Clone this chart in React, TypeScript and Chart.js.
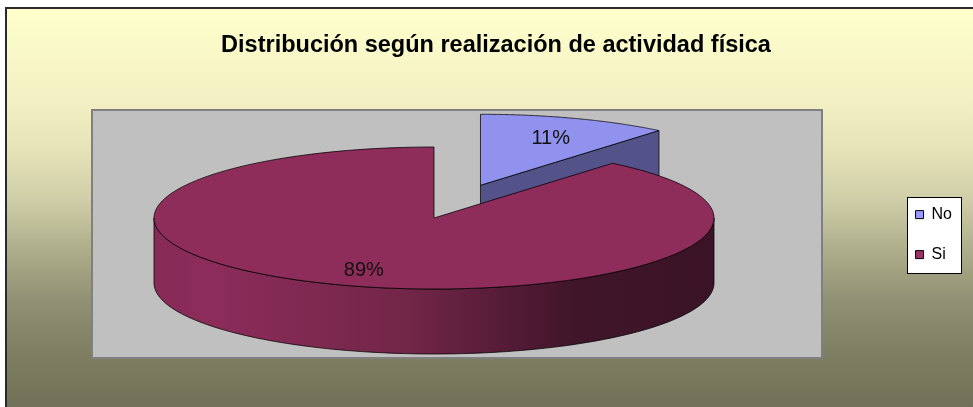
import React, { useEffect, useRef } from 'react';
import { Chart, registerables } from 'chart.js';

Chart.register(...registerables);

// ---- data ----
const TITLE = 'Distribución según realización de actividad física';
const categories = ['No', 'Si'];
const values = [11, 89];

// ---- style ----
const topColors = ['#9191EE', '#8E2C5A'];
const legendColors = ['#9999FF', '#993366'];
const wallColors = ['#535389', '#5A1C3A'];
const sideStops: [number, string][][] = [
  [[0, '#7A7AD0'], [0.5, '#5E5EA0'], [1, '#3A3A66']],
  [[0, '#862A56'], [0.1, '#8C2C5A'], [0.45, '#722648'], [0.75, '#40152A'], [1, '#3A1326']],
];
const explodeFrac = [0.49, 0];
const LABEL_R = 0.74;
const LABEL_DZ = 3;

const W = 973;
const H = 407;
const FRAME = { x: 6, y: 8 };
const PLOT_BOX = { x: 92, y: 110, w: 730, h: 248 };
const PIE = { cx: 434, cy: 218, rx: 280, ry: 71, depth: 65 };
const BG_STOPS: [number, string][] = [
  [0, '#FFFFCC'],
  [0.23, '#F3F0C3'],
  [0.356, '#E6E3B8'],
  [0.48, '#D0CEA8'],
  [0.606, '#AEAE8B'],
  [0.73, '#919175'],
  [0.857, '#7F7F63'],
  [1, '#717157'],
];
const FONT = '"Liberation Sans", Arial, sans-serif';

function sliceGeom(chart: any) {
  const meta = chart.getDatasetMeta(0);
  const arcs = meta.data as any[];
  return arcs.map((arc, i) => {
    const p = arc.getProps(['x', 'y', 'startAngle', 'endAngle', 'outerRadius']);
    const R = p.outerRadius;
    const sx = PIE.rx / R;
    const k = PIE.ry / R;
    const mid = (p.startAngle + p.endAngle) / 2;
    const e = explodeFrac[i] * R;
    const ox = Math.cos(mid) * e;
    const oy = Math.sin(mid) * e;
    const proj = (a: number, r: number, z: number): [number, number] => [
      PIE.cx + (ox + Math.cos(a) * r) * sx,
      PIE.cy + (oy + Math.sin(a) * r) * k + z,
    ];
    return { arc, i, p, R, sx, k, mid, ox, oy, proj, depthKey: oy + Math.sin(mid) * R * 0.5 };
  });
}

const pie3dPlugin = {
  id: 'pie3d',
  beforeDraw(chart: any) {
    const { ctx, width, height } = chart;
    ctx.save();
    ctx.fillStyle = '#ffffff';
    ctx.fillRect(0, 0, width, height);
    const g = ctx.createLinearGradient(0, FRAME.y, 0, height);
    BG_STOPS.forEach(([o, c]) => g.addColorStop(o, c));
    ctx.fillStyle = g;
    ctx.fillRect(FRAME.x, FRAME.y, width - FRAME.x + 5, height - FRAME.y + 5);
    ctx.strokeStyle = '#2a2a2a';
    ctx.lineWidth = 2;
    ctx.beginPath();
    ctx.moveTo(FRAME.x, height + 5);
    ctx.lineTo(FRAME.x, FRAME.y);
    ctx.lineTo(width + 5, FRAME.y);
    ctx.stroke();

    // plot area
    ctx.fillStyle = '#C0C0C0';
    ctx.fillRect(PLOT_BOX.x, PLOT_BOX.y, PLOT_BOX.w, PLOT_BOX.h);
    ctx.strokeStyle = '#808080';
    ctx.lineWidth = 2;
    ctx.strokeRect(PLOT_BOX.x, PLOT_BOX.y, PLOT_BOX.w, PLOT_BOX.h);

    // legend frame
    const lg = chart.legend;
    const hb = lg && lg.legendHitBoxes;
    if (hb && hb.length) {
      const x0 = Math.round(hb[0].left - 9) + 0.5;
      const x1 = Math.round(lg.right) - 0.5;
      const last = hb[hb.length - 1];
      const y0 = Math.round(hb[0].top - 10) + 0.5;
      const y1 = Math.round(last.top + last.height + 10) + 0.5;
      ctx.fillStyle = '#ffffff';
      ctx.fillRect(x0, y0, x1 - x0, y1 - y0);
      ctx.strokeStyle = '#000000';
      ctx.lineWidth = 1;
      ctx.strokeRect(x0, y0, x1 - x0, y1 - y0);
    }
    ctx.restore();
  },
  beforeDatasetsDraw(chart: any) {
    const { ctx } = chart;
    const D = PIE.depth;
    const slices = sliceGeom(chart).sort((a, b) => a.depthKey - b.depthKey);
    for (const s of slices) {
      const { p, R, proj, i } = s;
      const a0 = p.startAngle;
      const a1 = p.endAngle;
      ctx.save();
      ctx.lineJoin = 'round';
      ctx.strokeStyle = 'rgba(0,0,0,0.75)';
      ctx.lineWidth = 1;
      // radial faces facing the viewer
      const faces: number[] = [];
      if (Math.cos(a0) < -1e-6) faces.push(a0);
      if (Math.cos(a1) > 1e-6) faces.push(a1);
      for (const a of faces) {
        const c0 = proj(a, 0, 0);
        const o0 = proj(a, R, 0);
        const o1 = proj(a, R, D);
        const c1 = proj(a, 0, D);
        ctx.beginPath();
        ctx.moveTo(c0[0], c0[1]);
        ctx.lineTo(o0[0], o0[1]);
        ctx.lineTo(o1[0], o1[1]);
        ctx.lineTo(c1[0], c1[1]);
        ctx.closePath();
        ctx.fillStyle = wallColors[i];
        ctx.fill();
        ctx.stroke();
      }
      // outer wall (front half)
      const w0 = Math.max(a0, 0);
      const w1 = Math.min(a1, Math.PI);
      if (w1 > w0) {
        const n = 120;
        ctx.beginPath();
        for (let j = 0; j <= n; j++) {
          const a = w0 + ((w1 - w0) * j) / n;
          const q = proj(a, R, 0);
          if (j === 0) ctx.moveTo(q[0], q[1]);
          else ctx.lineTo(q[0], q[1]);
        }
        for (let j = n; j >= 0; j--) {
          const a = w0 + ((w1 - w0) * j) / n;
          const q = proj(a, R, D);
          ctx.lineTo(q[0], q[1]);
        }
        ctx.closePath();
        const left = proj(Math.PI, R, 0)[0];
        const right = proj(0, R, 0)[0];
        const g = ctx.createLinearGradient(left, 0, right, 0);
        sideStops[i].forEach(([o, c]) => g.addColorStop(o, c));
        ctx.fillStyle = g;
        ctx.fill();
        ctx.stroke();
      }
      // top face drawn by the Chart.js arc element, projected
      ctx.save();
      ctx.translate(PIE.cx + s.ox * s.sx, PIE.cy + s.oy * s.k);
      ctx.scale(s.sx, s.k);
      ctx.translate(-p.x, -p.y);
      s.arc.draw(ctx);
      ctx.restore();
      // outline of top face
      const c = proj(a0, 0, 0);
      ctx.beginPath();
      ctx.moveTo(c[0], c[1]);
      const n = 160;
      for (let j = 0; j <= n; j++) {
        const a = a0 + ((a1 - a0) * j) / n;
        const q = proj(a, R, 0);
        ctx.lineTo(q[0], q[1]);
      }
      ctx.closePath();
      ctx.stroke();
      ctx.restore();
    }
    return false;
  },
  afterDraw(chart: any) {
    const { ctx } = chart;
    const data = chart.data.datasets[0].data as number[];
    const total = data.reduce((a, b) => a + b, 0);
    const slices = sliceGeom(chart);
    ctx.save();
    ctx.font = `20px ${FONT}`;
    ctx.fillStyle = '#111111';
    ctx.textAlign = 'center';
    ctx.textBaseline = 'middle';
    for (const s of slices) {
      const pct = Math.round((data[s.i] / total) * 100) + '%';
      const q = s.proj(s.mid, s.R * LABEL_R, LABEL_DZ);
      ctx.fillText(pct, q[0], q[1]);
    }
    ctx.restore();
  },
};

export default function App() {
  const ref = useRef<HTMLCanvasElement | null>(null);
  useEffect(() => {
    document.body.style.margin = '0';
    const canvas = ref.current;
    if (!canvas) return;
    const chart = new Chart(canvas, {
      type: 'pie',
      data: {
        labels: categories,
        datasets: [
          {
            data: values,
            backgroundColor: topColors,
            borderWidth: 0,
            radius: 280,
          } as any,
        ],
      },
      options: {
        responsive: false,
        animation: false,
        devicePixelRatio: 1,
        events: [],
        layout: { padding: { left: 30, right: 11, top: 0, bottom: 3 } },
        plugins: {
          tooltip: { enabled: false },
          title: {
            display: true,
            text: TITLE,
            color: '#000000',
            font: { family: FONT, size: 23.5, weight: 'bold', lineHeight: 1.2 },
            padding: { top: 31, bottom: 6 },
          },
          legend: {
            display: true,
            position: 'right',
            fullSize: false,
            labels: {
              boxWidth: 8,
              boxHeight: 8,
              padding: 24,
              color: '#000000',
              font: { family: FONT, size: 16 },
              generateLabels: () =>
                categories.map((c, i) => ({
                  text: c,
                  fillStyle: legendColors[i],
                  strokeStyle: '#000000',
                  lineWidth: 1,
                  hidden: false,
                  index: i,
                  datasetIndex: 0,
                })),
            },
          },
        },
      },
      plugins: [pie3dPlugin as any],
    });
    return () => chart.destroy();
  }, []);
  return <canvas ref={ref} width={W} height={H} style={{ display: 'block' }} />;
}
